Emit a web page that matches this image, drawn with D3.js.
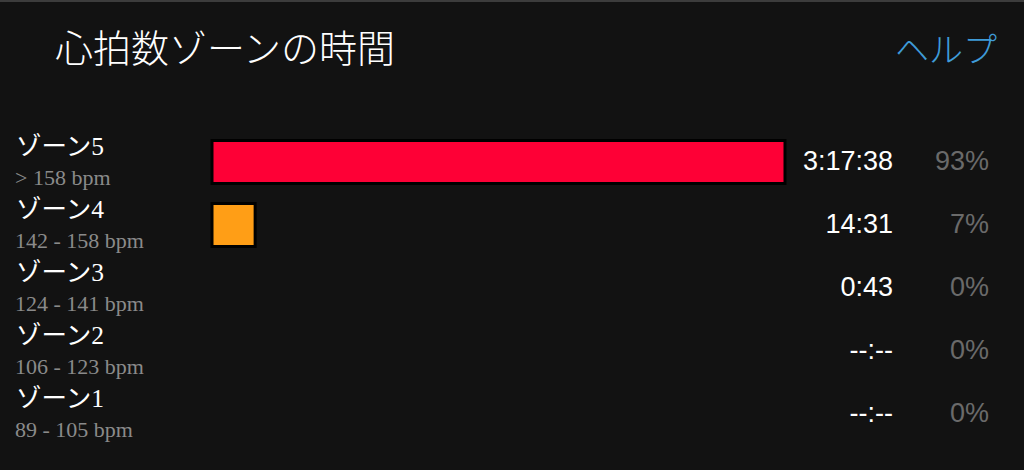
<!DOCTYPE html>
<html><head><meta charset="utf-8">
<script src="https://cdn.jsdelivr.net/npm/d3@7/dist/d3.min.js"></script>
<style>
html,body{margin:0;padding:0;background:#121212;}
svg{display:block;}
</style></head>
<body>
<svg id="c" width="1024" height="470"></svg>
<script>
const zones = ["ゾーン5","ゾーン4","ゾーン3","ゾーン2","ゾーン1"];
const ranges = ["> 158 bpm","142 - 158 bpm","124 - 141 bpm","106 - 123 bpm","89 - 105 bpm"];
const times = ["3:17:38","14:31","0:43","--:--","--:--"];
const percents = [93, 7, 0, 0, 0];
const colors = ["#fe0036","#ff9e16","#ff9e16","#ff9e16","#ff9e16"];
const title = "心拍数ゾーンの時間";
const helpText = "ヘルプ";

const svg = d3.select("#c");
svg.append("rect").attr("x",0).attr("y",0).attr("width",1024).attr("height",470).attr("fill","#121212");
svg.append("rect").attr("x",0).attr("y",0).attr("width",1024).attr("height",2).attr("fill","#3c3c3c");

svg.append("text").attr("x",55).attr("y",62)
  .attr("font-family","'Noto Sans CJK JP', sans-serif").attr("font-size",38).attr("font-weight",300)
  .attr("fill","#ffffff").text(title);
svg.append("text").attr("x",997).attr("y",62).attr("text-anchor","end")
  .attr("font-family","'Noto Sans CJK JP', sans-serif").attr("font-size",34).attr("font-weight",300)
  .attr("fill","#3f9bd8").text(helpText);

const y = d3.scaleBand().domain(zones).range([130.5, 445.5]).padding(0);
const x = d3.scaleLinear().domain([0, 93]).range([212, 785]);
const barH = 43;

const rows = svg.selectAll("g.row").data(zones).join("g").attr("class","row")
  .attr("transform", d => `translate(0,${y(d) + y.bandwidth()/2})`);

rows.append("text").attr("x",16).attr("y",-7)
  .attr("font-family","'Liberation Serif','Noto Sans CJK JP', serif").attr("font-size",25.5)
  .attr("fill","#ffffff").text(d => d);
rows.append("text").attr("x",15).attr("y",23)
  .attr("font-family","'Liberation Serif', serif").attr("font-size",22)
  .attr("fill","#8a8a8a").text((d,i) => ranges[i]);

rows.filter((d,i) => percents[i] > 0).append("rect")
  .attr("x", x(0)).attr("y", -barH/2)
  .attr("width", function(d){ const i = zones.indexOf(d); return x(percents[i]) - x(0); })
  .attr("height", barH)
  .attr("fill", d => colors[zones.indexOf(d)])
  .attr("stroke","#000").attr("stroke-width",3);

rows.append("text").attr("x",893).attr("y",8).attr("text-anchor","end")
  .attr("font-family","'Liberation Sans', Arial, sans-serif").attr("font-size",27)
  .attr("fill","#ffffff").text((d,i) => times[i]);
rows.append("text").attr("x",989).attr("y",8).attr("text-anchor","end")
  .attr("font-family","'Liberation Sans', Arial, sans-serif").attr("font-size",27)
  .attr("fill","#6a6a6a").text((d,i) => percents[i] + "%");
</script>
</body></html>
